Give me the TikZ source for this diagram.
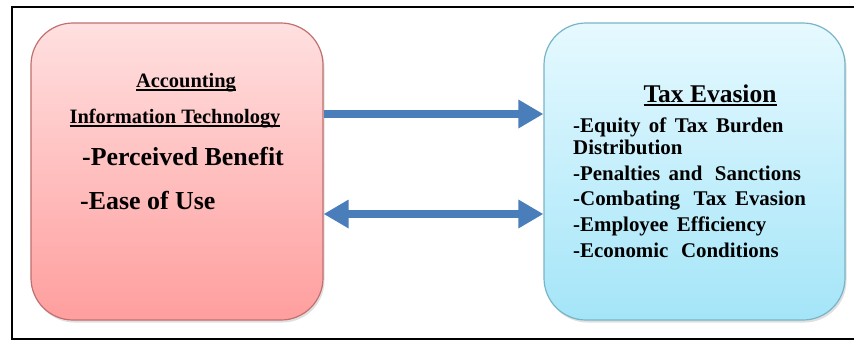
\documentclass[tikz,border=0pt]{standalone}
\usepackage{fontspec}
\setmainfont{Liberation Serif}[BoldFont={Liberation Serif Bold}]
\newfontfamily\tnrb{Liberation Serif Bold}
\newcommand\myul[1]{\setbox0\hbox{#1}\rlap{\rule[-3.5bp]{\wd0}{1.4bp}}\box0}
\newcommand\listfont{\tnrb\fontsize{21}{25}\selectfont\spaceskip=0.4em plus 0.1em\relax}
\usetikzlibrary{arrows.meta,shadows}
\definecolor{arrowblue}{HTML}{4A7EBB}
\definecolor{redtop}{HTML}{FFE0E0}
\definecolor{redbot}{HTML}{FF9E9E}
\definecolor{redline}{HTML}{C0706E}
\definecolor{bluetop}{HTML}{E6F9FF}
\definecolor{bluebot}{HTML}{A4E5F8}
\definecolor{blueline}{HTML}{78B4C8}
\tikzset{
  roundbox/.style={rounded corners=42bp, line width=1.2bp, inner sep=0pt,
    drop shadow={opacity=0.25, shadow xshift=1.5bp, shadow yshift=-2.5bp}},
  leftbox/.style={roundbox, draw=redline, top color=redtop, bottom color=redbot,
    minimum width=292bp, minimum height=297bp},
  rightbox/.style={roundbox, draw=blueline, top color=bluetop, bottom color=bluebot,
    minimum width=301bp, minimum height=297bp},
  bigarrow/.style={line width=8bp, draw=arrowblue},
  txt/.style={inner sep=0pt, font=\tnrb},
  smalltxt/.style={txt, font=\tnrb\fontsize{20.5}{24}\selectfont},
  largetxt/.style={txt, font=\tnrb\fontsize{26}{30}\selectfont},
  listtxt/.style={txt, anchor=base west, font=\listfont},
}
\begin{document}
\begin{tikzpicture}[x=1bp, y=-1bp]
\clip (0,0) rectangle (854,341);
\fill[white] (0,0) rectangle (854,341);
\draw[line width=2bp, black] (12,7) rectangle (870,339);
\node[leftbox] (lbox) at (177,171.5) {};
\node[rightbox] (rbox) at (694.5,171.5) {};
% arrows
\draw[bigarrow, -{Triangle[length=25bp, width=27bp]}] (lbox.east |- 0,114) -- (rbox.west |- 0,114);
\draw[bigarrow, {Triangle[length=25bp, width=27bp]}-{Triangle[length=25bp, width=27bp]}] (lbox.east |- 0,214) -- (rbox.west |- 0,214);
% left texts
\node[smalltxt, anchor=base] (acc) at (186,87) {\myul{Accounting}};
\node[smalltxt, anchor=base] (ait) at (175,123) {\myul{Information Technology}};
\node[largetxt, anchor=base west] (pb) at (82,165) {-Perceived Benefit};
\node[largetxt, anchor=base west] (eu) at (80,209) {-Ease of Use};
% right texts
\node[txt, anchor=base, font=\tnrb\fontsize{25.6}{30}\selectfont] (te) at (710,102) {\myul{Tax Evasion}};
\node[listtxt] (l1) at (573,132) {-Equity of Tax Burden};
\node[listtxt] (l2) at (573,154) {Distribution};
\node[listtxt] (l3) at (573,180) {-Penalties and\hspace{0.2em} Sanctions};
\node[listtxt] (l4) at (573,205) {-Combating\hspace{0.25em} Tax Evasion};
\node[listtxt] (l5) at (573,231) {-Employee Efficiency};
\node[listtxt] (l6) at (573,257) {-Economic\hspace{0.2em} Conditions};
\end{tikzpicture}
\end{document}
